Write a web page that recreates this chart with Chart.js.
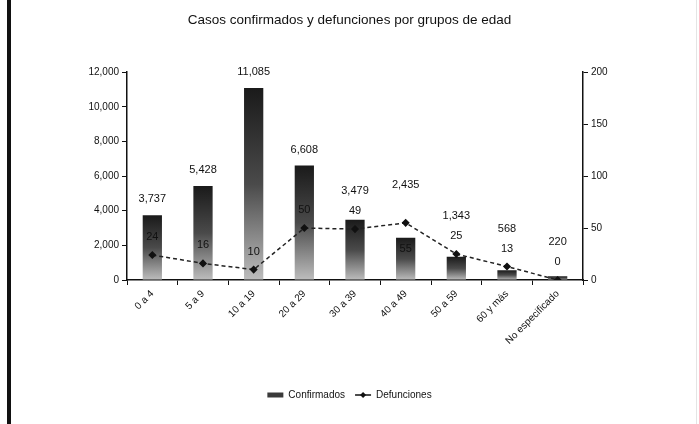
<!DOCTYPE html>
<html>
<head>
<meta charset="utf-8">
<script src="https://cdn.jsdelivr.net/npm/chart.js@4.4.1/dist/chart.umd.min.js"></script>
<style>
    html, body { margin: 0; padding: 0; background: #fff; }
    #wrap { position: relative; width: 699px; height: 424px; }
    #frame-left { position: absolute; left: 7px; top: 0; width: 4px; height: 424px; background: #111; }
    #frame-right { position: absolute; left: 696px; top: 0; width: 1px; height: 424px; background: #e4e4e4; }
</style>
</head>
<body>
<div id="wrap">
    <canvas id="chart" width="699" height="424"></canvas>
    <div id="frame-left"></div>
    <div id="frame-right"></div>
</div>
<script>
// Data
const grupos = ['0 a 4', '5 a 9', '10 a 19', '20 a 29', '30 a 39', '40 a 49', '50 a 59', '60 y más', 'No especificado'];
const confirmados = [3737, 5428, 11085, 6608, 3479, 2435, 1343, 568, 220];
const defunciones = [24, 16, 10, 50, 49, 55, 25, 13, 0];
const ticksIzq = [0, 2000, 4000, 6000, 8000, 10000, 12000];
const ticksDer = [0, 50, 100, 150, 200];

const FONT = "'Liberation Sans', Arial, sans-serif";
const fmt = v => v.toLocaleString('en-US');

// Gradient for each bar: dark on top, lighter at the base
function barFill(c) {
    const chart = c.chart;
    if (!chart.chartArea || c.type !== 'data') return '#444';
    const y = chart.scales.y;
    const top = y.getPixelForValue(c.raw);
    const base = y.getPixelForValue(0);
    const g = chart.ctx.createLinearGradient(0, top, 0, base);
    g.addColorStop(0, '#1a1a1a');
    g.addColorStop(0.5, '#4a4a4a');
    g.addColorStop(1, '#bdbdbd');
    return g;
}

// Value labels above bars and line points, plus the diamond on the legend line
const valueLabels = {
    id: 'valueLabels',
    afterDatasetsDraw(chart) {
        const ctx = chart.ctx;
        const bars = chart.getDatasetMeta(0).data;
        const pts = chart.getDatasetMeta(1).data;
        ctx.save();
        ctx.fillStyle = '#111';
        ctx.font = '11px ' + FONT;
        ctx.textAlign = 'center';
        ctx.textBaseline = 'middle';
        bars.forEach((bar, i) => {
            const pt = pts[i];
            // "55" sits under its point in the original
            const below = i === 5;
            const ly = below ? pt.y + 26 : pt.y - 18;
            ctx.fillText(String(defunciones[i]), pt.x, ly);
            const by = Math.min(bar.y - 16, pt.y - 38);
            ctx.fillText(fmt(confirmados[i]), bar.x, by);
        });
        ctx.restore();
    },
    afterDraw(chart) {
        const boxes = chart.legend && chart.legend.legendHitBoxes;
        if (!boxes || !boxes[1]) return;
        const b = boxes[1];
        const cx = b.left + 8;
        const cy = b.top + 5;
        const ctx = chart.ctx;
        ctx.save();
        ctx.fillStyle = '#111';
        ctx.beginPath();
        ctx.moveTo(cx, cy - 3);
        ctx.lineTo(cx + 3, cy);
        ctx.lineTo(cx, cy + 3);
        ctx.lineTo(cx - 3, cy);
        ctx.closePath();
        ctx.fill();
        ctx.restore();
    }
};

new Chart(document.getElementById('chart'), {
    type: 'bar',
    data: {
        labels: grupos,
        datasets: [
            {
                type: 'bar',
                label: 'Confirmados',
                data: confirmados,
                backgroundColor: barFill,
                borderWidth: 0,
                barPercentage: 0.38,
                categoryPercentage: 1,
                yAxisID: 'y',
                order: 2
            },
            {
                type: 'line',
                label: 'Defunciones',
                data: defunciones,
                borderColor: '#222',
                backgroundColor: '#222',
                borderWidth: 1.5,
                borderDash: [4, 3],
                pointStyle: 'rectRot',
                pointRadius: 3,
                pointBackgroundColor: '#111',
                pointBorderColor: '#111',
                tension: 0,
                yAxisID: 'y1',
                order: 1
            }
        ]
    },
    options: {
        responsive: false,
        animation: false,
        layout: { padding: { left: 0, right: 0, top: 0, bottom: 14 } },
        plugins: {
            title: {
                display: true,
                text: 'Casos confirmados y defunciones por grupos de edad',
                color: '#111',
                font: { family: FONT, size: 13.5, weight: 'normal' },
                padding: { top: 12, bottom: 44 }
            },
            legend: {
                display: true,
                position: 'bottom',
                labels: {
                    color: '#111',
                    font: { family: FONT, size: 10 },
                    usePointStyle: true,
                    pointStyleWidth: 16,
                    boxHeight: 5,
                    padding: 10,
                    generateLabels(chart) {
                        const items = Chart.defaults.plugins.legend.labels.generateLabels(chart);
                        items.forEach(it => {
                            if (it.datasetIndex === 0) {
                                it.pointStyle = 'rect';
                                it.fillStyle = '#3a3a3a';
                                it.strokeStyle = '#3a3a3a';
                                it.lineWidth = 0;
                            } else {
                                it.pointStyle = 'line';
                                it.strokeStyle = '#111';
                                it.lineDash = [];
                                it.lineWidth = 1.5;
                            }
                        });
                        return items.sort((a, b) => a.datasetIndex - b.datasetIndex);
                    }
                }
            },
            tooltip: { enabled: false }
        },
        scales: {
            x: {
                grid: { display: true, drawOnChartArea: false, color: '#111', tickLength: 5, offset: true },
                border: { color: '#111', width: 1.5 },
                ticks: {
                    color: '#111',
                    font: { family: FONT, size: 10 },
                    maxRotation: 45,
                    minRotation: 45,
                    autoSkip: false
                },
                afterFit(axis) { axis.height = 100; }
            },
            y: {
                position: 'left',
                min: 0,
                max: 12000,
                afterBuildTicks(axis) { axis.ticks = ticksIzq.map(v => ({ value: v })); },
                grid: { display: true, drawOnChartArea: false, color: '#111', tickLength: 5 },
                border: { color: '#111', width: 1.5 },
                ticks: {
                    color: '#111',
                    font: { family: FONT, size: 10 },
                    callback: v => fmt(v)
                },
                afterFit(axis) { axis.width = 127; }
            },
            y1: {
                position: 'right',
                min: 0,
                max: 200,
                afterBuildTicks(axis) { axis.ticks = ticksDer.map(v => ({ value: v })); },
                grid: { display: true, drawOnChartArea: false, color: '#111', tickLength: 5 },
                border: { color: '#111', width: 1.5 },
                ticks: {
                    color: '#111',
                    font: { family: FONT, size: 10 }
                },
                afterFit(axis) { axis.width = 116; }
            }
        }
    },
    plugins: [valueLabels]
});
</script>
</body>
</html>
